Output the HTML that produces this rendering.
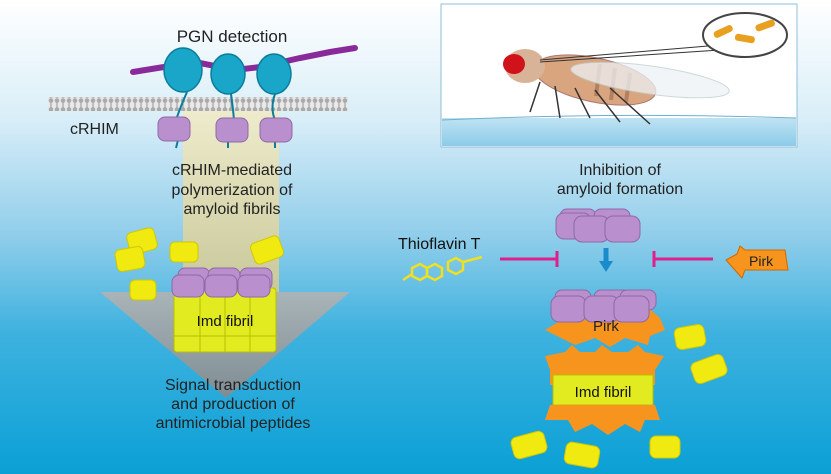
<!DOCTYPE html><html><head><style>body{margin:0}svg{display:block}text{font-family:"Liberation Sans",sans-serif}</style></head><body>
<svg width="831" height="474" viewBox="0 0 831 474" xmlns="http://www.w3.org/2000/svg">
<defs>
<linearGradient id="bg" x1="0" y1="0" x2="0" y2="1"><stop offset="0" stop-color="#ffffff"/><stop offset="0.25" stop-color="#d9eef8"/><stop offset="0.5" stop-color="#8fcdea"/><stop offset="0.7" stop-color="#3fb2df"/><stop offset="1" stop-color="#0aa0d6"/></linearGradient>
<linearGradient id="sh" x1="0" y1="0" x2="0" y2="1"><stop offset="0" stop-color="#eeeccc"/><stop offset="1" stop-color="#c9c89a"/></linearGradient>
<linearGradient id="hd" x1="0" y1="0" x2="0" y2="1"><stop offset="0" stop-color="#a9b4b8"/><stop offset="1" stop-color="#7f8d93"/></linearGradient>
<linearGradient id="wt" x1="0" y1="0" x2="0" y2="1"><stop offset="0" stop-color="#bfe3f3"/><stop offset="1" stop-color="#8ccbe8"/></linearGradient>
<pattern id="mem" width="6" height="14" patternUnits="userSpaceOnUse"><rect width="6" height="14" fill="#e8e8e8"/><circle cx="3" cy="2.5" r="2.3" fill="#aaa"/><circle cx="3" cy="11.5" r="2.3" fill="#aaa"/><line x1="3" y1="4" x2="3" y2="10" stroke="#999"/></pattern>
</defs>
<rect width="831" height="474" fill="url(#bg)"/>
<text x="232" y="42" font-size="17" text-anchor="middle" fill="#222">PGN detection</text>
<rect x="183" y="108" width="96" height="185" fill="url(#sh)"/>
<polygon points="100,292 350,292 226,398" fill="url(#hd)"/>
<rect x="48" y="97" width="300" height="14" fill="url(#mem)"/>
<path d="M133,72 L170,66 L200,63 L235,70 L260,67 L300,58 L330,52 L355,48" stroke="#8a2a9a" stroke-width="6" fill="none" stroke-linecap="round"/>
<g fill="#1aa6c9" stroke="#0a7d9b" stroke-width="1.5">
<ellipse cx="183" cy="70" rx="19" ry="22"/><ellipse cx="228" cy="74" rx="17" ry="20"/><ellipse cx="274" cy="74" rx="17" ry="20"/></g>
<g stroke="#0a7d9b" stroke-width="2" fill="none"><path d="M187,92 Q180,108 176,120"/><path d="M231,94 Q233,108 234,120"/><path d="M275,94 Q270,108 275,120"/>
<path d="M178,140 l-2,8"/><path d="M228,140 l0,8"/><path d="M275,140 l0,8"/></g>
<g fill="#b98fcd" stroke="#8f69a6"><rect x="158" y="117" width="32" height="24" rx="7"/><rect x="216" y="118" width="32" height="24" rx="7"/><rect x="260" y="118" width="32" height="24" rx="7"/></g>
<text x="70" y="134" font-size="16" fill="#222">cRHIM</text>
<g font-size="16" text-anchor="middle" fill="#222"><text x="232" y="175">cRHIM-mediated</text><text x="232" y="195">polymerization of</text><text x="232" y="214">amyloid fibrils</text>
<text x="233" y="390">Signal transduction</text><text x="233" y="409">and production of</text><text x="233" y="428">antimicrobial peptides</text></g>
<g fill="#f0ea10" stroke="#cfc800"><rect x="128" y="230" width="28" height="22" rx="5" transform="rotate(-15 142 241)"/><rect x="116" y="248" width="28" height="22" rx="5" transform="rotate(-10 130 259)"/><rect x="170" y="242" width="28" height="20" rx="5"/><rect x="252" y="239" width="30" height="22" rx="5" transform="rotate(-20 267 250)"/><rect x="130" y="280" width="26" height="20" rx="5"/></g>
<g fill="#e2ea20" stroke="#b8c000"><rect x="174" y="288" width="102" height="64" rx="3"/></g>
<g stroke="#b8c000" fill="none"><line x1="200" y1="290" x2="200" y2="352"/><line x1="225" y1="290" x2="225" y2="352"/><line x1="250" y1="290" x2="250" y2="352"/><line x1="174" y1="336" x2="276" y2="336"/></g>
<g fill="#b98fcd" stroke="#8f69a6"><rect x="178" y="268" width="32" height="22" rx="7"/><rect x="208" y="268" width="32" height="22" rx="7"/><rect x="240" y="268" width="32" height="22" rx="7"/><rect x="172" y="275" width="32" height="22" rx="7"/><rect x="205" y="275" width="32" height="22" rx="7"/><rect x="238" y="275" width="32" height="22" rx="7"/></g>
<text x="225" y="326" font-size="15" text-anchor="middle" fill="#111">Imd fibril</text>
<rect x="441" y="4" width="356" height="143" fill="#fff" stroke="#8fbfd8"/>
<rect x="442" y="118" width="354" height="28" fill="url(#wt)"/>
<path d="M442,120 Q620,112 796,118" stroke="#6fb0d0" fill="none"/>
<ellipse cx="595" cy="80" rx="62" ry="22" fill="#d9a57e" stroke="#a77" transform="rotate(12 595 80)"/>
<g stroke="#9a6a50" stroke-width="4" opacity="0.6"><line x1="600" y1="64" x2="596" y2="96"/><line x1="615" y1="68" x2="611" y2="100"/><line x1="630" y1="73" x2="626" y2="102"/></g>
<ellipse cx="650" cy="80" rx="80" ry="14" fill="#eef2f5" stroke="#bcc" opacity="0.75" transform="rotate(8 650 80)"/>
<ellipse cx="525" cy="66" rx="20" ry="17" fill="#d9b397"/><ellipse cx="514" cy="64" rx="11" ry="10" fill="#d0121a"/>
<g stroke="#333" stroke-width="1.5" fill="none"><path d="M540,82 L530,112"/><path d="M555,86 L560,118"/><path d="M575,88 L590,118"/><path d="M595,90 L620,122"/><path d="M610,88 L650,124"/></g>
<path d="M540,60 L720,45" stroke="#333"/><path d="M540,62 L720,50" stroke="#333"/>
<ellipse cx="745" cy="35" rx="42" ry="22" fill="#fff" stroke="#444" stroke-width="2"/>
<g fill="#e8a020"><rect x="713" y="28" width="20" height="7" rx="3" transform="rotate(-25 723 31)"/><rect x="735" y="35" width="20" height="7" rx="3" transform="rotate(10 745 38)"/><rect x="755" y="22" width="20" height="7" rx="3" transform="rotate(-20 765 25)"/></g>
<text x="620" y="175" font-size="16" text-anchor="middle" fill="#222">Inhibition of</text>
<text x="620" y="194" font-size="16" text-anchor="middle" fill="#222">amyloid formation</text>
<g fill="#b98fcd" stroke="#8f69a6"><rect x="560" y="209" width="36" height="20" rx="7"/><rect x="594" y="209" width="36" height="20" rx="7"/><rect x="556" y="213" width="35" height="26" rx="8"/><rect x="574" y="216" width="35" height="26" rx="8"/><rect x="605" y="216" width="35" height="26" rx="8"/></g>
<text x="398" y="249" font-size="16" fill="#111">Thioflavin T</text>
<g stroke="#f0e020" stroke-width="2.5" fill="none"><path d="M403,280 L412,274"/><polygon points="412,268 420,264 427,268 427,276 420,280 412,276"/><polygon points="427,268 435,264 442,268 442,276 435,280 427,276"/><polygon points="448,262 456,258 463,262 463,270 456,274 448,270"/><path d="M463,262 L482,257"/></g>
<g stroke="#e0208a" stroke-width="3"><line x1="500" y1="259" x2="557" y2="259"/><line x1="557" y1="251" x2="557" y2="267"/><line x1="654" y1="259" x2="713" y2="259"/><line x1="654" y1="251" x2="654" y2="267"/></g>
<path d="M606,248 v14" stroke="#1a8ccc" stroke-width="5"/><polygon points="599,261 613,261 606,272" fill="#1a8ccc"/>
<polygon points="726,260 737,254 740,246 745,250 785,250 788,270 745,270 742,278" fill="#f7941e" stroke="#d06a00"/>
<text x="749" y="266" font-size="14" fill="#222">Pirk</text>
<polygon points="545,330 565,318 575,305 645,305 660,318 665,330 650,336 648,345 625,338 610,347 595,338 575,345" fill="#f7941e"/>
<g fill="#b98fcd" stroke="#8f69a6"><rect x="555" y="290" width="36" height="20" rx="7"/><rect x="594" y="290" width="36" height="20" rx="7"/><rect x="620" y="290" width="36" height="20" rx="7"/><rect x="551" y="296" width="35" height="26" rx="8"/><rect x="584" y="296" width="35" height="26" rx="8"/><rect x="614" y="296" width="35" height="26" rx="8"/></g>
<text x="593" y="331" font-size="15" fill="#222">Pirk</text>
<polygon points="545,356 565,352 572,345 580,352 595,352 602,345 612,352 628,352 638,345 645,352 664,356 655,370 655,385 550,385 550,370" fill="#f7941e"/>
<rect x="553" y="375" width="100" height="30" fill="#e2ea20" stroke="#b8c000"/>
<text x="603" y="397" font-size="15" text-anchor="middle" fill="#111">Imd fibril</text>
<polygon points="550,405 655,405 660,420 645,420 640,432 625,424 608,435 592,424 575,432 568,420 545,420" fill="#f7941e"/>
<g fill="#f0ea10" stroke="#cfc800"><rect x="675" y="326" width="30" height="22" rx="6" transform="rotate(-10 690 337)"/><rect x="692" y="358" width="34" height="22" rx="6" transform="rotate(-20 709 369)"/><rect x="512" y="434" width="34" height="22" rx="6" transform="rotate(-15 529 445)"/><rect x="565" y="444" width="34" height="22" rx="6" transform="rotate(10 582 455)"/><rect x="650" y="436" width="30" height="22" rx="6"/></g>
</svg></body></html>
